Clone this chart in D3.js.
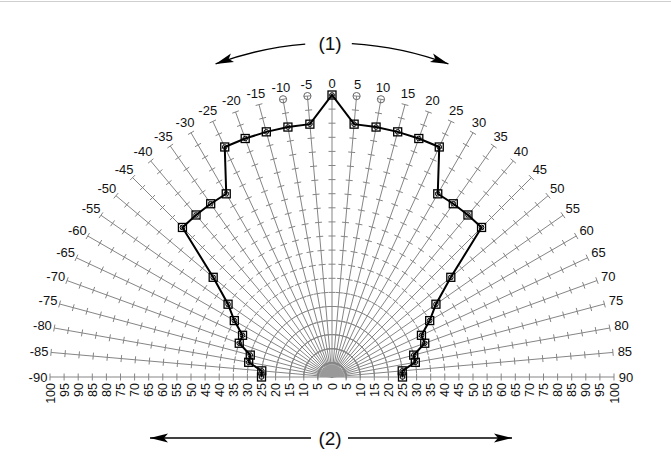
<!DOCTYPE html>
<html><head><meta charset="utf-8">
<script src="https://cdn.jsdelivr.net/npm/d3@7"></script>
<style>body{margin:0;background:#fff}svg{display:block}text{font-family:"Liberation Sans",Arial,sans-serif}</style>
</head><body>
<svg id="c" width="671" height="472"></svg>
<script>
// Spoke angles (degrees, 0 = straight ahead, negative = left)
const angles = d3.range(-90, 91, 5);
// Detection range per angle (scale 0..100)
const rangeValues = [25,25,30,30,35,35,40,45,55,75,75,75,75,90,90,90,90,90,100,90,90,90,90,90,75,75,75,75,55,45,40,35,35,30,30,25,25];
// Spokes ending with a small circle
const circleSpokes = [-10,-5,5,10];
// Bottom axis tick values (labelled by absolute value)
const axisTicks = d3.range(-100, 101, 5);
const rTicks = d3.range(5, 101, 5);
const arrowLabels = ["(1)", "(2)"];

const svg = d3.select("#c");
const cx = 332, cy = 377;
const r = d3.scaleLinear().domain([0,100]).range([0,282]);
const rad = d => d*Math.PI/180;
const px = (a, rr) => cx + rr*Math.sin(rad(a));
const py = (a, rr) => cy - rr*Math.cos(rad(a));
const grey = "#858585";

// top border line
svg.append("line").attr("x1",0).attr("x2",671).attr("y1",1.5).attr("y2",1.5).attr("stroke","#cfcfcf").attr("stroke-width",1);

const g = svg.append("g");
// spokes
g.selectAll("line.spoke").data(angles).join("line")
  .attr("x1", cx).attr("y1", cy)
  .attr("x2", a => px(a, r(100))).attr("y2", a => py(a, r(100)))
  .attr("stroke", grey).attr("stroke-width", 1);
// ticks
const tk = [];
angles.forEach(a => rTicks.forEach(v => tk.push({a, v})));
const th = 3.5;
g.selectAll("line.tick").data(tk).join("line")
  .attr("x1", d => px(d.a, r(d.v)) + th*Math.cos(rad(d.a)))
  .attr("y1", d => py(d.a, r(d.v)) + th*Math.sin(rad(d.a)))
  .attr("x2", d => px(d.a, r(d.v)) - th*Math.cos(rad(d.a)))
  .attr("y2", d => py(d.a, r(d.v)) - th*Math.sin(rad(d.a)))
  .attr("stroke", grey).attr("stroke-width", 1);
// end circles
g.selectAll("circle.end").data(circleSpokes).join("circle")
  .attr("cx", a => px(a, r(100))).attr("cy", a => py(a, r(100)))
  .attr("r", 3.6).attr("fill", "none").attr("stroke", "#666").attr("stroke-width", 1);
// central blob
g.append("path")
  .attr("transform", `translate(${cx},${cy})`)
  .attr("d", d3.arc()({innerRadius:0, outerRadius:12, startAngle:-Math.PI/2, endAngle:Math.PI/2}))
  .attr("fill", "#999");
// spoke labels
g.selectAll("text.sl").data(angles).join("text")
  .attr("x", a => px(a, 294)).attr("y", a => py(a, 294))
  .attr("text-anchor", "middle").attr("dominant-baseline", "central")
  .attr("font-size", 13).attr("fill", "#111")
  .text(a => a);

// bottom axis labels via d3.axis
const xs = d3.scaleLinear().domain([-100,100]).range([cx - r(100), cx + r(100)]);
const ax = svg.append("g").attr("transform", `translate(0,${cy})`)
  .call(d3.axisBottom(xs).tickValues(axisTicks).tickFormat(v => Math.abs(v)).tickSize(0));
ax.select(".domain").remove();
ax.selectAll("text")
  .attr("font-size", 12.5).attr("fill", "#111")
  .attr("text-anchor", "end").attr("dominant-baseline", "central")
  .attr("dy", null).attr("y", 0)
  .attr("transform", "translate(0,6) rotate(-90)");

// data line
const pts = angles.map((a,i) => ({a, v: rangeValues[i]}));
const line = d3.lineRadial().angle(d => rad(d.a)).radius(d => r(d.v));
const dg = svg.append("g").attr("transform", `translate(${cx},${cy})`);
dg.append("path").attr("d", line(pts)).attr("fill", "none").attr("stroke", "#000").attr("stroke-width", 2);
const mk = dg.selectAll("g.m").data(pts).join("g")
  .attr("transform", d => `translate(${r(d.v)*Math.sin(rad(d.a))},${-r(d.v)*Math.cos(rad(d.a))})`);
mk.append("rect").attr("x", -4).attr("y", -4).attr("width", 8).attr("height", 8)
  .attr("fill", "none").attr("stroke", "#000").attr("stroke-width", 1.3);
mk.append("circle").attr("r", 2.3).attr("fill", "none").attr("stroke", "#000").attr("stroke-width", 1);

// arrows
const defs = svg.append("defs");
defs.append("marker").attr("id", "ah").attr("markerUnits", "userSpaceOnUse")
  .attr("viewBox", "-19 -5 20 10").attr("refX", 0).attr("refY", 0)
  .attr("markerWidth", 20).attr("markerHeight", 10).attr("orient", "auto")
  .append("path").attr("d", "M0,0 L-18,-4.5 L-14,0 L-18,4.5 Z").attr("fill", "#000");

const R = 334;
const arcPath = (a0, a1, sweep) => `M${px(a0,R)},${py(a0,R)} A${R},${R} 0 0 ${sweep} ${px(a1,R)},${py(a1,R)}`;
svg.append("path").attr("d", arcPath(-4.6, -20.4, 0)).attr("fill","none").attr("stroke","#000").attr("stroke-width",1.3).attr("marker-end","url(#ah)");
svg.append("path").attr("d", arcPath(3.4, 20.4, 1)).attr("fill","none").attr("stroke","#000").attr("stroke-width",1.3).attr("marker-end","url(#ah)");
svg.append("text").attr("x", 330).attr("y", 43).attr("text-anchor","middle").attr("dominant-baseline","central")
  .attr("font-size", 19).attr("fill","#111").text(arrowLabels[0]);

svg.append("line").attr("x1", 311).attr("y1", 438).attr("x2", 150).attr("y2", 438)
  .attr("stroke","#000").attr("stroke-width",1.3).attr("marker-end","url(#ah)");
svg.append("line").attr("x1", 348).attr("y1", 438).attr("x2", 512).attr("y2", 438)
  .attr("stroke","#000").attr("stroke-width",1.3).attr("marker-end","url(#ah)");
svg.append("text").attr("x", 330).attr("y", 438).attr("text-anchor","middle").attr("dominant-baseline","central")
  .attr("font-size", 19).attr("fill","#111").text(arrowLabels[1]);
</script>
</body></html>
